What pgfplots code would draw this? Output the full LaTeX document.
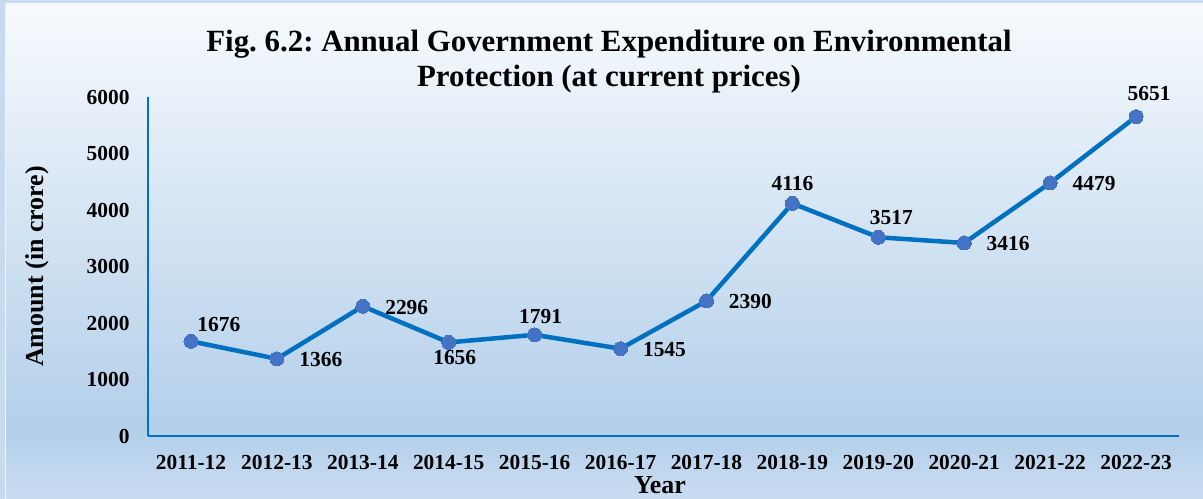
\documentclass[border=0pt]{standalone}
\usepackage{fontspec}
\setmainfont{Liberation Serif}
\usepackage{pgfplots}
\pgfplotsset{compat=1.18}
\definecolor{frame}{HTML}{C8DAF0}
\definecolor{bgtop}{HTML}{F7FAFD}
\definecolor{bgmid}{HTML}{B3CFEA}
\definecolor{bgbot}{HTML}{C9DCF1}
\definecolor{lineblue}{HTML}{0070C0}
\definecolor{markblue}{HTML}{4472C4}
\tikzset{
  lpa/.style={anchor=south west,xshift=3bp,yshift=6bp},
  lpb/.style={anchor=west,xshift=19bp,yshift=-1bp},
  lpc/.style={anchor=north,xshift=6bp,yshift=-4bp},
  lpd/.style={anchor=south,yshift=9bp},
  lpe/.style={anchor=south,xshift=6bp,yshift=8bp},
  lpf/.style={anchor=south,xshift=13bp,yshift=9bp},
  lpg/.style={anchor=south,xshift=13bp,yshift=12bp},
}
\begin{document}
\frenchspacing
\begin{tikzpicture}[x=1bp,y=1bp]
\fill[frame] (0,0) rectangle (1203,499);
\shade[top color=bgtop,bottom color=bgmid] (6,69) rectangle (1203,495);
\shade[top color=bgmid,bottom color=bgbot] (6,0) rectangle (1203,69.5);
\draw[white!70!frame,line width=0.6bp] (5.7,0) -- (5.7,495) -- (1203,495);
\node[align=center,font=\bfseries\fontsize{31}{35}\selectfont] at (609,437.5)
  {Fig. 6.2: Annual Government Expenditure on Environmental\\Protection (at current prices)};
\begin{axis}[
  at={(148bp,63bp)}, anchor=south west,
  scale only axis, width=1031bp, height=339bp,
  xmin=-0.5, xmax=11.5, ymin=0, ymax=6000,
  axis x line*=bottom, axis y line*=left,
  axis line style={lineblue,line width=1.3bp,-},
  xtick={0,...,11},
  xticklabels={2011-12,2012-13,2013-14,2014-15,2015-16,2016-17,2017-18,2018-19,2019-20,2020-21,2021-22,2022-23},
  ytick={0,1000,2000,3000,4000,5000,6000},
  major tick length=0pt,
  /pgf/number format/assume math mode=true,
  /pgf/number format/set thousands separator={},
  tick label style={font=\bfseries\fontsize{21.5}{24}\selectfont},
  xticklabel style={yshift=-16bp},
  yticklabel style={xshift=-15bp},
  xlabel={Year}, ylabel={Amount (in crore)},
  every axis x label/.style={at={(axis description cs:0.4966,-0.1445)},anchor=center,font=\bfseries\fontsize{26}{28}\selectfont},
  every axis y label/.style={at={(axis description cs:-0.1077,0.5)},rotate=90,anchor=center,font=\bfseries\fontsize{26}{28}\selectfont},
  nodes near coords style={font=\bfseries\fontsize{21.5}{24}\selectfont,black},
  clip=false,
]
\addplot[lineblue,line width=4.5bp,mark=*,mark size=7bp,
  mark options={fill=markblue,draw=markblue,line width=0pt}]
  coordinates {(0,1676) (1,1366) (2,2296) (3,1656) (4,1791) (5,1545)
               (6,2390) (7,4116) (8,3517) (9,3416) (10,4479) (11,5651)};
\addplot[draw=none,mark=none,nodes near coords,every node near coord/.append style={lpa}]
  coordinates {(0,1676)};
\addplot[draw=none,mark=none,nodes near coords,every node near coord/.append style={lpb}]
  coordinates {(1,1366) (2,2296) (5,1545) (6,2390) (9,3416) (10,4479)};
\addplot[draw=none,mark=none,nodes near coords,every node near coord/.append style={lpc}]
  coordinates {(3,1656)};
\addplot[draw=none,mark=none,nodes near coords,every node near coord/.append style={lpe}]
  coordinates {(4,1791)};
\addplot[draw=none,mark=none,nodes near coords,every node near coord/.append style={lpd}]
  coordinates {(7,4116)};
\addplot[draw=none,mark=none,nodes near coords,every node near coord/.append style={lpf}]
  coordinates {(8,3517)};
\addplot[draw=none,mark=none,nodes near coords,every node near coord/.append style={lpg}]
  coordinates {(11,5651)};
\end{axis}
\pgfresetboundingbox
\useasboundingbox (0,0) rectangle (1203,499);
\end{tikzpicture}
\end{document}
